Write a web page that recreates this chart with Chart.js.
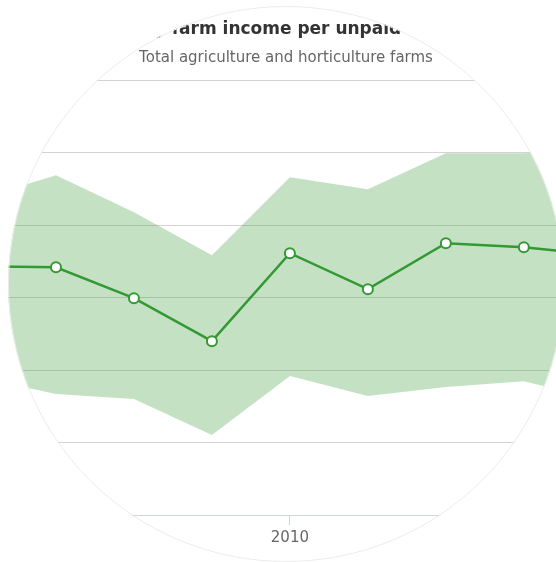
<!DOCTYPE html>
<html>
<head>
<meta charset="utf-8">
<script src="https://cdn.jsdelivr.net/npm/chart.js@4.4.1/dist/chart.umd.min.js"></script>
<style>
  html, body { margin: 0; padding: 0; background: #fff; overflow: hidden; }
  #frame { position: absolute; left: 0; top: 0; width: 556px; height: 562px; overflow: hidden; }
  #clip { position: absolute; left: 0; top: 0; width: 556px; height: 562px;
          clip-path: circle(278px at 286px 284px); }
  #chart { position: absolute; left: -70px; top: 0; }
  #ring { position: absolute; left: 8px; top: 6px; width: 556px; height: 556px;
          box-sizing: border-box; border: 1px solid #ececec; border-radius: 50%; }
</style>
</head>
<body>
<div id="frame">
  <div id="clip"><canvas id="chart" width="720" height="562"></canvas></div>
  <div id="ring"></div>
</div>
<script>
// farm income per unpaid labour unit, GBP (range = upper / lower bound)
var years = [2006, 2007, 2008, 2009, 2010, 2011, 2012, 2013, 2014];
var income = [17170, 17100, 14970, 12000, 18070, 15590, 18760, 18480, 17930];
var upper = [21800, 23450, 20900, 17930, 23310, 22480, 24970, 24970, 25170];
var lower = [9520, 8350, 8000, 5520, 9590, 8210, 8830, 9240, 7930];
var xTicks = [2008, 2010, 2012];

var green = "rgb(51,153,51)";
var font = "'DejaVu Sans', Verdana, sans-serif";

function pts(arr) {
    var out = [];
    for (var i = 0; i < years.length; i++) {
        out.push({x: years[i], y: arr[i]});
    }
    return out;
}

var config = {
    type: "line",
    data: {
        datasets: [
            {
                label: "Income",
                data: pts(income),
                borderColor: green,
                borderWidth: 2.5,
                pointRadius: 5,
                pointBorderWidth: 2,
                pointBackgroundColor: "#fff",
                pointBorderColor: green,
                fill: false,
                order: 1
            },
            {
                label: "Upper",
                data: pts(upper),
                borderWidth: 0,
                pointRadius: 0,
                backgroundColor: "rgba(51,153,51,0.29)",
                fill: "+1",
                order: 2
            },
            {
                label: "Lower",
                data: pts(lower),
                borderWidth: 0,
                pointRadius: 0,
                fill: false,
                order: 2
            }
        ]
    },
    options: {
        responsive: false,
        animation: false,
        layout: { padding: { left: 9, right: 17, top: 13, bottom: 11 } },
        plugins: {
            legend: { display: false },
            tooltip: { enabled: false },
            title: {
                display: true,
                text: "Family farm income per unpaid labour",
                color: "#333",
                font: { family: font, size: 17, weight: "bold" },
                padding: { top: 6, bottom: 10 }
            },
            subtitle: {
                display: true,
                text: "Total agriculture and horticulture farms",
                color: "#666",
                font: { family: font, size: 15 },
                padding: { top: 0, bottom: 13 }
            }
        },
        scales: {
            x: {
                type: "linear",
                min: 2005.5,
                max: 2014.4,
                afterBuildTicks: function (s) {
                    s.ticks = xTicks.map(function (v) { return {value: v}; });
                },
                grid: { drawOnChartArea: false, color: "#ccd6eb", tickLength: 10, lineWidth: 1 },
                border: { color: "#ccd6eb" },
                ticks: {
                    color: "#666",
                    font: { family: font, size: 15 },
                    padding: 4,
                    callback: function (v) { return String(v); }
                }
            },
            y: {
                min: 0,
                max: 30000,
                afterFit: function (s) { s.width = 0; },
                ticks: { display: false, stepSize: 5000 },
                border: { display: false },
                grid: {
                    drawTicks: false,
                    color: function (c) { return c.tick && c.tick.value === 0 ? "rgba(0,0,0,0)" : "#d3d3d3"; }
                }
            }
        }
    }
};

new Chart(document.getElementById("chart"), config);
</script>
</body>
</html>
